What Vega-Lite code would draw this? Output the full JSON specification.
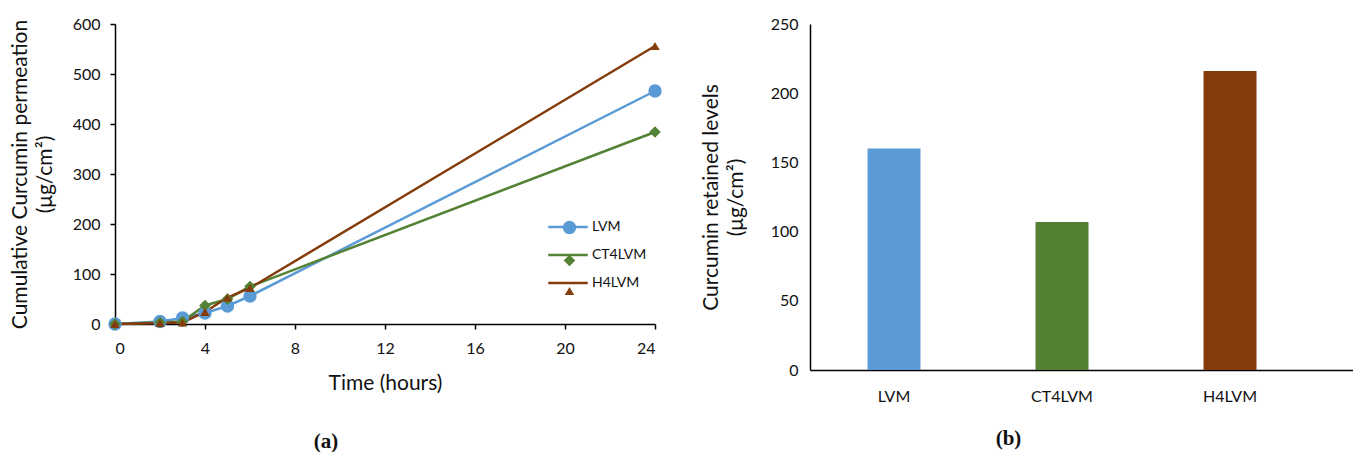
{
  "$schema": "https://vega.github.io/schema/vega-lite/v6.json",
  "padding": {"left": 9, "top": 16, "right": 0, "bottom": 0},
  "background": "white",
  "spacing": 38,
  "config": {
    "font": "Lato",
    "view": {"stroke": null},
    "axis": {
      "labelFont": "Lato",
      "titleFont": "Lato",
      "domainColor": "black",
      "domainWidth": 1.5,
      "tickColor": "black",
      "tickWidth": 1.5,
      "labelColor": "#111111",
      "titleColor": "#111111",
      "grid": false,
      "labelFontSize": 16,
      "titleFontSize": 21,
      "titleFontWeight": "normal"
    },
    "legend": {"labelFont": "Lato", "labelColor": "#111111"}
  },
  "hconcat": [
    {
      "width": 540,
      "height": 300,
      "title": {"text": "(a)", "orient": "bottom", "font": "Liberation Serif", "fontSize": 21, "fontWeight": "bold", "color": "#111111", "dx": -59, "offset": 38},
      "data": {
        "values": [
          {"series": "LVM", "time": 0, "value": 0},
          {"series": "LVM", "time": 2, "value": 5},
          {"series": "LVM", "time": 3, "value": 12},
          {"series": "LVM", "time": 4, "value": 22},
          {"series": "LVM", "time": 5, "value": 36},
          {"series": "LVM", "time": 6, "value": 56},
          {"series": "LVM", "time": 24, "value": 466},
          {"series": "CT4LVM", "time": 0, "value": 0},
          {"series": "CT4LVM", "time": 2, "value": 3},
          {"series": "CT4LVM", "time": 3, "value": 5},
          {"series": "CT4LVM", "time": 4, "value": 37},
          {"series": "CT4LVM", "time": 5, "value": 50},
          {"series": "CT4LVM", "time": 6, "value": 75},
          {"series": "CT4LVM", "time": 24, "value": 384},
          {"series": "H4LVM", "time": 0, "value": 0},
          {"series": "H4LVM", "time": 2, "value": 2},
          {"series": "H4LVM", "time": 3, "value": 3},
          {"series": "H4LVM", "time": 4, "value": 24},
          {"series": "H4LVM", "time": 5, "value": 53},
          {"series": "H4LVM", "time": 6, "value": 72},
          {"series": "H4LVM", "time": 24, "value": 556}
        ]
      },
      "layer": [
        {
          "mark": {"type": "line", "strokeWidth": 2.5},
          "encoding": {
            "x": {"field": "time", "type": "quantitative", "scale": {"domain": [0, 24]},
              "axis": {"values": [0, 4, 8, 12, 16, 20, 24], "title": "Time (hours)", "tickSize": 5, "labelPadding": 11, "titlePadding": 16}},
            "y": {"field": "value", "type": "quantitative", "scale": {"domain": [0, 600]},
              "axis": {"values": [0, 100, 200, 300, 400, 500, 600], "title": ["Cumulative Curcumin permeation", "(μg/cm²)"], "tickSize": 5, "labelPadding": 10, "titlePadding": 17, "titleLineHeight": 25}},
            "color": {"field": "series", "type": "nominal",
              "scale": {"domain": ["LVM", "CT4LVM", "H4LVM"], "range": ["#5B9BD5", "#548235", "#843C0C"]},
              "legend": {"orient": "none", "legendX": 432, "legendY": 182, "title": null, "symbolType": "stroke", "symbolSize": 1560, "symbolStrokeWidth": 2.5, "labelFontSize": 14, "labelOffset": 3, "rowPadding": -3.5, "padding": 0}}
          }
        },
        {
          "mark": {"type": "point", "filled": true, "opacity": 1},
          "encoding": {
            "x": {"field": "time", "type": "quantitative"},
            "y": {"field": "value", "type": "quantitative"},
            "color": {"field": "series", "type": "nominal",
              "scale": {"domain": ["LVM", "CT4LVM", "H4LVM"], "range": ["#5B9BD5", "#548235", "#843C0C"]},
              "legend": {"orient": "none", "legendX": 447, "legendY": 196, "title": null, "labelFontSize": 14, "labelExpr": "''", "rowPadding": 13.5, "padding": 0, "symbolOpacity": 1}},
            "shape": {"field": "series", "type": "nominal",
              "scale": {"domain": ["LVM", "CT4LVM", "H4LVM"], "range": ["circle", "diamond", "triangle-up"]},
              "legend": {"orient": "none", "legendX": 447, "legendY": 196, "title": null, "labelFontSize": 14, "labelExpr": "''", "rowPadding": 13.5, "padding": 0, "symbolOpacity": 1}},
            "size": {"field": "series", "type": "nominal",
              "scale": {"domain": ["LVM", "CT4LVM", "H4LVM"], "range": [180, 90, 210]}, "legend": null}
          }
        }
      ],
      "resolve": {"scale": {"color": "independent", "shape": "independent", "size": "independent"}, "legend": {"color": "independent", "shape": "independent"}}
    },
    {
      "width": 543,
      "height": 346,
      "title": {"text": "(b)", "orient": "bottom", "font": "Liberation Serif", "fontSize": 21, "fontWeight": "bold", "color": "#111111", "dx": -73, "offset": 24},
      "data": {
        "values": [
          {"sample": "LVM", "retained": 160},
          {"sample": "CT4LVM", "retained": 107},
          {"sample": "H4LVM", "retained": 216}
        ]
      },
      "mark": {"type": "bar", "width": 53},
      "encoding": {
        "x": {"field": "sample", "type": "nominal", "sort": null,
          "scale": {"paddingInner": 0, "paddingOuter": 0.116, "align": 0},
          "axis": {"title": null, "labelAngle": 0, "ticks": false, "tickSize": 0, "labelPadding": 18, "labelFontSize": 16}},
        "y": {"field": "retained", "type": "quantitative", "scale": {"domain": [0, 250]},
          "axis": {"values": [0, 50, 100, 150, 200, 250], "title": ["Curcumin retained levels", "(μg/cm²)"], "ticks": false, "tickSize": 0, "labelPadding": 12, "titlePadding": 24, "titleLineHeight": 25}},
        "color": {"field": "sample", "type": "nominal",
          "scale": {"domain": ["LVM", "CT4LVM", "H4LVM"], "range": ["#5B9BD5", "#548235", "#843C0C"]}, "legend": null}
      }
    }
  ]
}
